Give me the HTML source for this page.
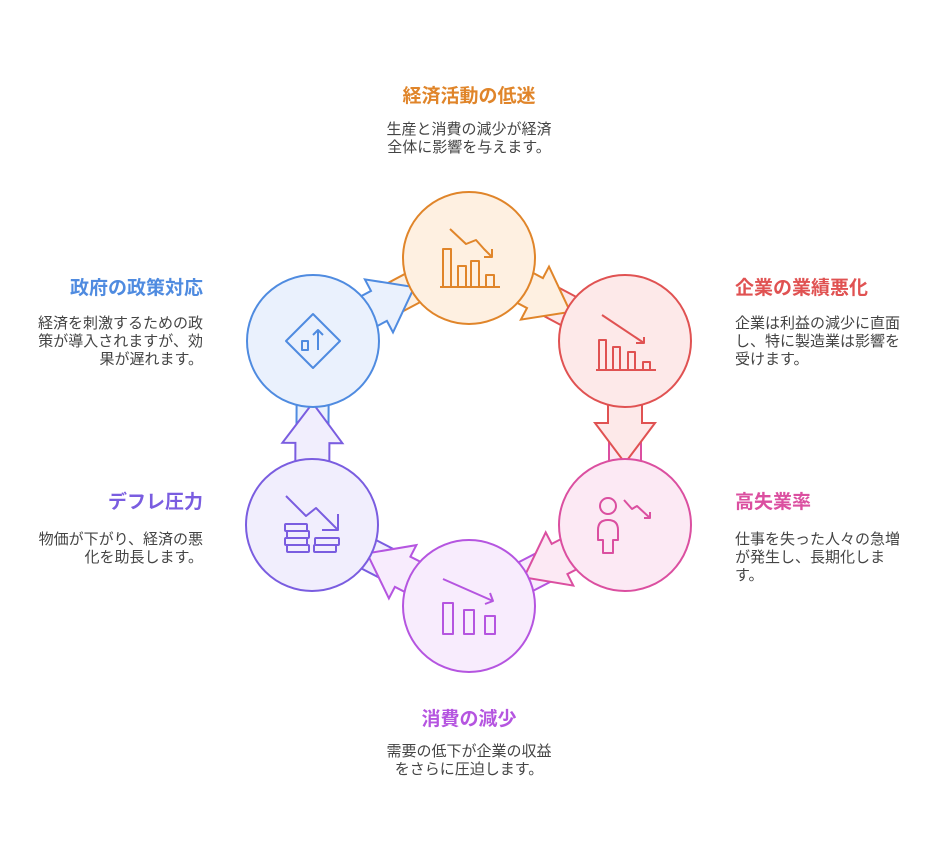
<!DOCTYPE html>
<html><head><meta charset="utf-8"><style>
body{margin:0;background:#fff;width:938px;height:866px;overflow:hidden;font-family:"Liberation Sans","Noto Sans CJK JP",sans-serif}
.t{position:absolute;font-weight:bold;font-size:19px;line-height:22px;white-space:nowrap}
.d{position:absolute;font-size:15px;color:#444;line-height:18px;white-space:nowrap}
</style></head><body>
<svg id="s" width="938" height="866" style="position:absolute;left:0;top:0"></svg>
<div class="t" style="left:319px;top:86px;width:300px;text-align:center;color:#e0852a">経済活動の低迷</div>
<div class="d" style="left:319px;top:121px;width:300px;text-align:center">生産と消費の減少が経済<br>全体に影響を与えます。</div>
<div class="t" style="left:735px;top:278px;color:#e05252">企業の業績悪化</div>
<div class="d" style="left:735px;top:315px">企業は利益の減少に直面<br>し、特に製造業は影響を<br>受けます。</div>
<div class="t" style="left:735px;top:492px;color:#db4fa0">高失業率</div>
<div class="d" style="left:735px;top:531px">仕事を失った人々の急増<br>が発生し、長期化しま<br>す。</div>
<div class="t" style="left:319px;top:709px;width:300px;text-align:center;color:#b555e0">消費の減少</div>
<div class="d" style="left:319px;top:743px;width:300px;text-align:center">需要の低下が企業の収益<br>をさらに圧迫します。</div>
<div class="t" style="left:3px;top:278px;width:200px;text-align:right;color:#4f8be0">政府の政策対応</div>
<div class="d" style="left:3px;top:315px;width:200px;text-align:right">経済を刺激するための政<br>策が導入されますが、効<br>果が遅れます。</div>
<div class="t" style="left:3px;top:492px;width:200px;text-align:right;color:#7a5de0">デフレ圧力</div>
<div class="d" style="left:3px;top:531px;width:200px;text-align:right">物価が下がり、経済の悪<br>化を助長します。</div>
<script>
var N=[[469,258,'#e0852a','#fef0e1'],[625,341,'#e05252','#fde9e9'],[625,525,'#db4fa0','#fce9f4'],[469,606,'#b555e0','#f8ecfd'],[312,525,'#7a5de0','#f1eefd'],[313,341,'#4f8be0','#eaf1fd']];
var R=66,h='';
function P(p){return p.map(function(q){return q[0].toFixed(1)+','+q[1].toFixed(1)}).join(' ')}
for(var i=0;i<6;i++){var a=N[i],b=N[(i+1)%6];var dx=b[0]-a[0],dy=b[1]-a[1],d=Math.hypot(dx,dy),ux=dx/d,uy=dy/d,nx=-uy,ny=ux;
function pt(s,w){return [a[0]+ux*s+nx*w,a[1]+uy*s+ny*w]}
var tip=d-R+4,base=tip-40;
h+='<polygon points="'+P([pt(base,-16),pt(d-R+18,-16),pt(d-R+18,16),pt(base,16)])+'" fill="'+b[3]+'" stroke="'+b[2]+'" stroke-width="2"/>';
h+='<polygon points="'+P([pt(R-12,-17),pt(base,-17),pt(base,-30),pt(tip,0),pt(base,30),pt(base,17),pt(R-12,17)])+'" fill="'+a[3]+'" stroke="'+a[2]+'" stroke-width="2" stroke-linejoin="miter"/>';}
N.forEach(function(n){h+='<circle cx="'+n[0]+'" cy="'+n[1]+'" r="'+R+'" fill="'+n[3]+'" stroke="'+n[2]+'" stroke-width="2"/>'});
function g(c,x,y,s){return '<g transform="translate('+x+','+y+')" fill="none" stroke="'+c+'" stroke-width="2" stroke-linejoin="round">'+s+'</g>'}
h+=g('#e0852a',440,229,'<path d="M10 0L26 15L36 11L44 20L52 28M44 28H52V20"/><path d="M0 58H60"/><rect x="3" y="20" width="8" height="38"/><rect x="18" y="37" width="8" height="21"/><rect x="31" y="32" width="8" height="26"/><rect x="46" y="46" width="8" height="12"/>');
h+=g('#e05252',596,313,'<path d="M6 2L48 30M40 30H48V24"/><path d="M0 57H60"/><rect x="3" y="27" width="7" height="30"/><rect x="17" y="34" width="7" height="23"/><rect x="32" y="39" width="7" height="18"/><rect x="47" y="49" width="7" height="8"/>');
h+=g('#db4fa0',594,496,'<circle cx="14" cy="10" r="8"/><path d="M9 57V44H4V34Q4 24 14 24Q24 24 24 34V44H19V57Z"/><path d="M30 4L38 13L43 10L56 22M50 22H56V16"/>');
h+=g('#b555e0',443,579,'<path d="M0 0L50 22M42 25L50 22L47 14"/><rect x="0" y="24" width="10" height="31"/><rect x="21" y="31" width="10" height="24"/><rect x="42" y="37" width="10" height="18"/>');
h+=g('#7a5de0',284,496,'<path d="M2 0L22 20L32 12L54 34M38 34H54V18"/><rect x="1" y="28" width="22" height="7" rx="1"/><rect x="3" y="35" width="22" height="7" rx="1"/><rect x="1" y="42" width="22" height="7" rx="1"/><rect x="3" y="49" width="22" height="7" rx="1"/><rect x="31" y="42" width="24" height="7" rx="1"/><rect x="30" y="49" width="22" height="7" rx="1"/>');
h+=g('#4f8be0',284,312,'<path d="M29 2L56 29L29 56L2 29Z"/><rect x="18" y="29" width="6" height="9"/><path d="M34 38V18M29 23L34 18L39 23"/>');
document.getElementById('s').innerHTML=h;
</script>
</body></html>
